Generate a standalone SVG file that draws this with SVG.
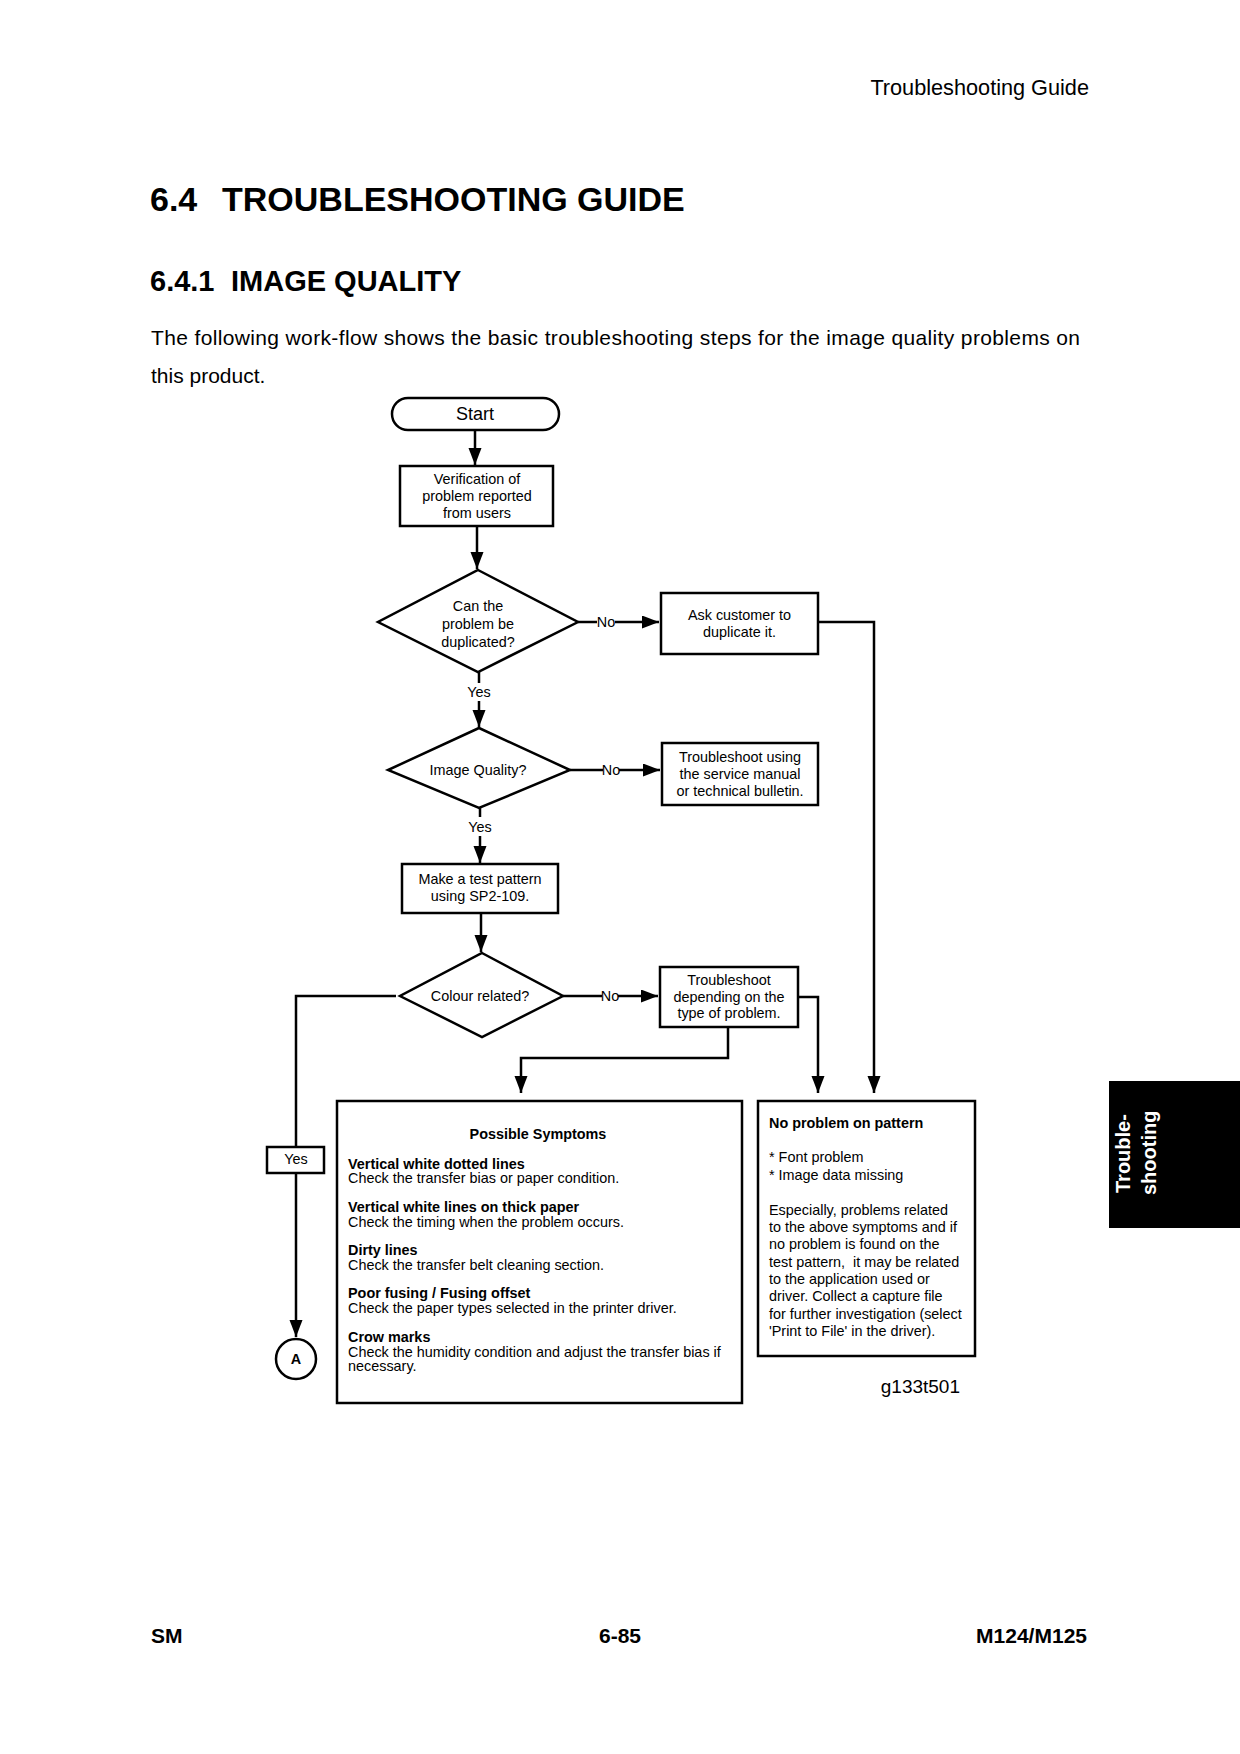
<svg xmlns="http://www.w3.org/2000/svg" width="1240" height="1754" viewBox="0 0 1240 1754">
<style>
text{font-family:"Liberation Sans",Arial,sans-serif;fill:#000}
.n{font-size:14.4px;text-anchor:middle}
.b{font-weight:bold}
.t{font-size:14.4px}
.box{fill:#fff;stroke:#000;stroke-width:2.5}
.ln{fill:none;stroke:#000;stroke-width:2.5}
</style>
<defs>
<marker id="ah" markerUnits="userSpaceOnUse" markerWidth="18" markerHeight="14" refX="17" refY="6.5" orient="auto">
<path d="M0,0 L17,6.5 L0,13 z" fill="#000"/>
</marker>
</defs>
<rect width="1240" height="1754" fill="#fff"/>
<text x="1089" y="95" font-size="21.7" text-anchor="end">Troubleshooting Guide</text>
<text x="150" y="211" font-size="34" class="b">6.4</text>
<text x="222" y="211" font-size="34" class="b">TROUBLESHOOTING GUIDE</text>
<text x="150" y="291" font-size="29" class="b">6.4.1</text>
<text x="231" y="291" font-size="29" class="b">IMAGE QUALITY</text>
<text x="151" y="345" font-size="21" textLength="929" lengthAdjust="spacing">The following work-flow shows the basic troubleshooting steps for the image quality problems on</text>
<text x="151" y="383" font-size="21">this product.</text>

<g id="connectors">
<line class="ln" x1="475" y1="430" x2="475" y2="465" marker-end="url(#ah)"/>
<line class="ln" x1="477" y1="526" x2="477" y2="569" marker-end="url(#ah)"/>
<line class="ln" x1="578" y1="622" x2="597" y2="622"/>
<text x="606" y="627" class="n">No</text>
<line class="ln" x1="615" y1="622" x2="659" y2="622" marker-end="url(#ah)"/>
<polyline class="ln" points="818,622 874,622 874,1093" marker-end="url(#ah)"/>
<line class="ln" x1="479" y1="672" x2="479" y2="683"/>
<text x="479" y="697" class="n">Yes</text>
<line class="ln" x1="479" y1="701" x2="479" y2="727" marker-end="url(#ah)"/>
<line class="ln" x1="570" y1="770" x2="603" y2="770"/>
<text x="611" y="775" class="n">No</text>
<line class="ln" x1="619" y1="770" x2="660" y2="770" marker-end="url(#ah)"/>
<line class="ln" x1="480" y1="808" x2="480" y2="817"/>
<text x="480" y="832" class="n">Yes</text>
<line class="ln" x1="480" y1="836" x2="480" y2="863" marker-end="url(#ah)"/>
<line class="ln" x1="481" y1="913" x2="481" y2="952" stroke-width="3.5" marker-end="url(#ah)"/>
<polyline class="ln" points="396,996 296,996 296,1147"/>
<line class="ln" x1="296" y1="1173" x2="296" y2="1337" marker-end="url(#ah)"/>
<line class="ln" x1="563" y1="996" x2="602" y2="996"/>
<text x="610" y="1001" class="n">No</text>
<line class="ln" x1="618" y1="996" x2="658" y2="996" marker-end="url(#ah)"/>
<polyline class="ln" points="798,997 818,997 818,1093" marker-end="url(#ah)"/>
<polyline class="ln" points="728,1027 728,1058 521,1058 521,1093" marker-end="url(#ah)"/>
</g>

<g id="start">
<rect class="box" x="392" y="398" width="167" height="32" rx="16"/>
<text x="475" y="420" font-size="18" text-anchor="middle">Start</text>
</g>
<g id="verification">
<rect class="box" x="400" y="466" width="153" height="60"/>
<text class="n" x="477" y="484">Verification of</text>
<text class="n" x="477" y="501">problem reported</text>
<text class="n" x="477" y="518">from users</text>
</g>
<g id="duplicated">
<polygon class="box" points="478,570 578,622 478,672 378,622"/>
<text class="n" x="478" y="611">Can the</text>
<text class="n" x="478" y="629">problem be</text>
<text class="n" x="478" y="647">duplicated?</text>
</g>
<g id="ask">
<rect class="box" x="661" y="593" width="157" height="61"/>
<text class="n" x="739.5" y="620">Ask customer to</text>
<text class="n" x="739.5" y="637">duplicate it.</text>
</g>
<g id="imagequality">
<polygon class="box" points="479,728 570,770 479,808 388,770"/>
<text class="n" x="478" y="775">Image Quality?</text>
</g>
<g id="servicemanual">
<rect class="box" x="662" y="743" width="156" height="62"/>
<text class="n" x="740" y="762">Troubleshoot using</text>
<text class="n" x="740" y="779">the service manual</text>
<text class="n" x="740" y="796">or technical bulletin.</text>
</g>
<g id="testpattern">
<rect class="box" x="402" y="864" width="156" height="49"/>
<text class="n" x="480" y="884">Make a test pattern</text>
<text class="n" x="480" y="901">using SP2-109.</text>
</g>
<g id="colour">
<polygon class="box" points="482,953 563,996 482,1037 400,996"/>
<text class="n" x="480" y="1001">Colour related?</text>
</g>
<g id="typeofproblem">
<rect class="box" x="660" y="967" width="138" height="60"/>
<text class="n" x="729" y="985">Troubleshoot</text>
<text class="n" x="729" y="1002">depending on the</text>
<text class="n" x="729" y="1018">type of problem.</text>
</g>
<g id="yes">
<rect class="box" x="267" y="1147" width="57" height="26"/>
<text class="n" x="296" y="1164">Yes</text>
</g>
<g id="connectorA">
<circle class="box" cx="296" cy="1359" r="20"/>
<text class="n b" x="296" y="1364" font-size="14">A</text>
</g>
<g id="symptoms">
<rect class="box" x="337" y="1101" width="405" height="302" stroke-width="3"/>
<text class="n b" x="538" y="1139">Possible Symptoms</text>
<text class="t b" x="348" y="1169">Vertical white dotted lines</text>
<text class="t" x="348" y="1183">Check the transfer bias or paper condition.</text>
<text class="t b" x="348" y="1212">Vertical white lines on thick paper</text>
<text class="t" x="348" y="1227">Check the timing when the problem occurs.</text>
<text class="t b" x="348" y="1255">Dirty lines</text>
<text class="t" x="348" y="1270">Check the transfer belt cleaning section.</text>
<text class="t b" x="348" y="1298">Poor fusing / Fusing offset</text>
<text class="t" x="348" y="1313">Check the paper types selected in the printer driver.</text>
<text class="t b" x="348" y="1342">Crow marks</text>
<text class="t" x="348" y="1357">Check the humidity condition and adjust the transfer bias if</text>
<text class="t" x="348" y="1371">necessary.</text>
</g>
<g id="noproblem">
<rect class="box" x="758" y="1101" width="217" height="255" stroke-width="3"/>
<text class="t b" x="769" y="1128">No problem on pattern</text>
<text class="t" x="769" y="1162">* Font problem</text>
<text class="t" x="769" y="1180">* Image data missing</text>
<text class="t" x="769" y="1215">Especially, problems related</text>
<text class="t" x="769" y="1232">to the above symptoms and if</text>
<text class="t" x="769" y="1249">no problem is found on the</text>
<text class="t" x="769" y="1267" style="white-space:pre">test pattern,  it may be related</text>
<text class="t" x="769" y="1284">to the application used or</text>
<text class="t" x="769" y="1301">driver. Collect a capture file</text>
<text class="t" x="769" y="1319">for further investigation (select</text>
<text class="t" x="769" y="1336">'Print to File' in the driver).</text>
</g>
<text x="960" y="1393" font-size="19" text-anchor="end">g133t501</text>

<rect x="1109" y="1081" width="131" height="147" fill="#000"/>
<text transform="translate(1130,1193) rotate(-90)" font-size="20" class="b" style="fill:#fff">Trouble-</text>
<text transform="translate(1156,1195) rotate(-90)" font-size="20" class="b" style="fill:#fff">shooting</text>

<text x="151" y="1643" font-size="21" class="b">SM</text>
<text x="620" y="1643" font-size="21" class="b" text-anchor="middle">6-85</text>
<text x="1087" y="1643" font-size="21" class="b" text-anchor="end">M124/M125</text>
</svg>
